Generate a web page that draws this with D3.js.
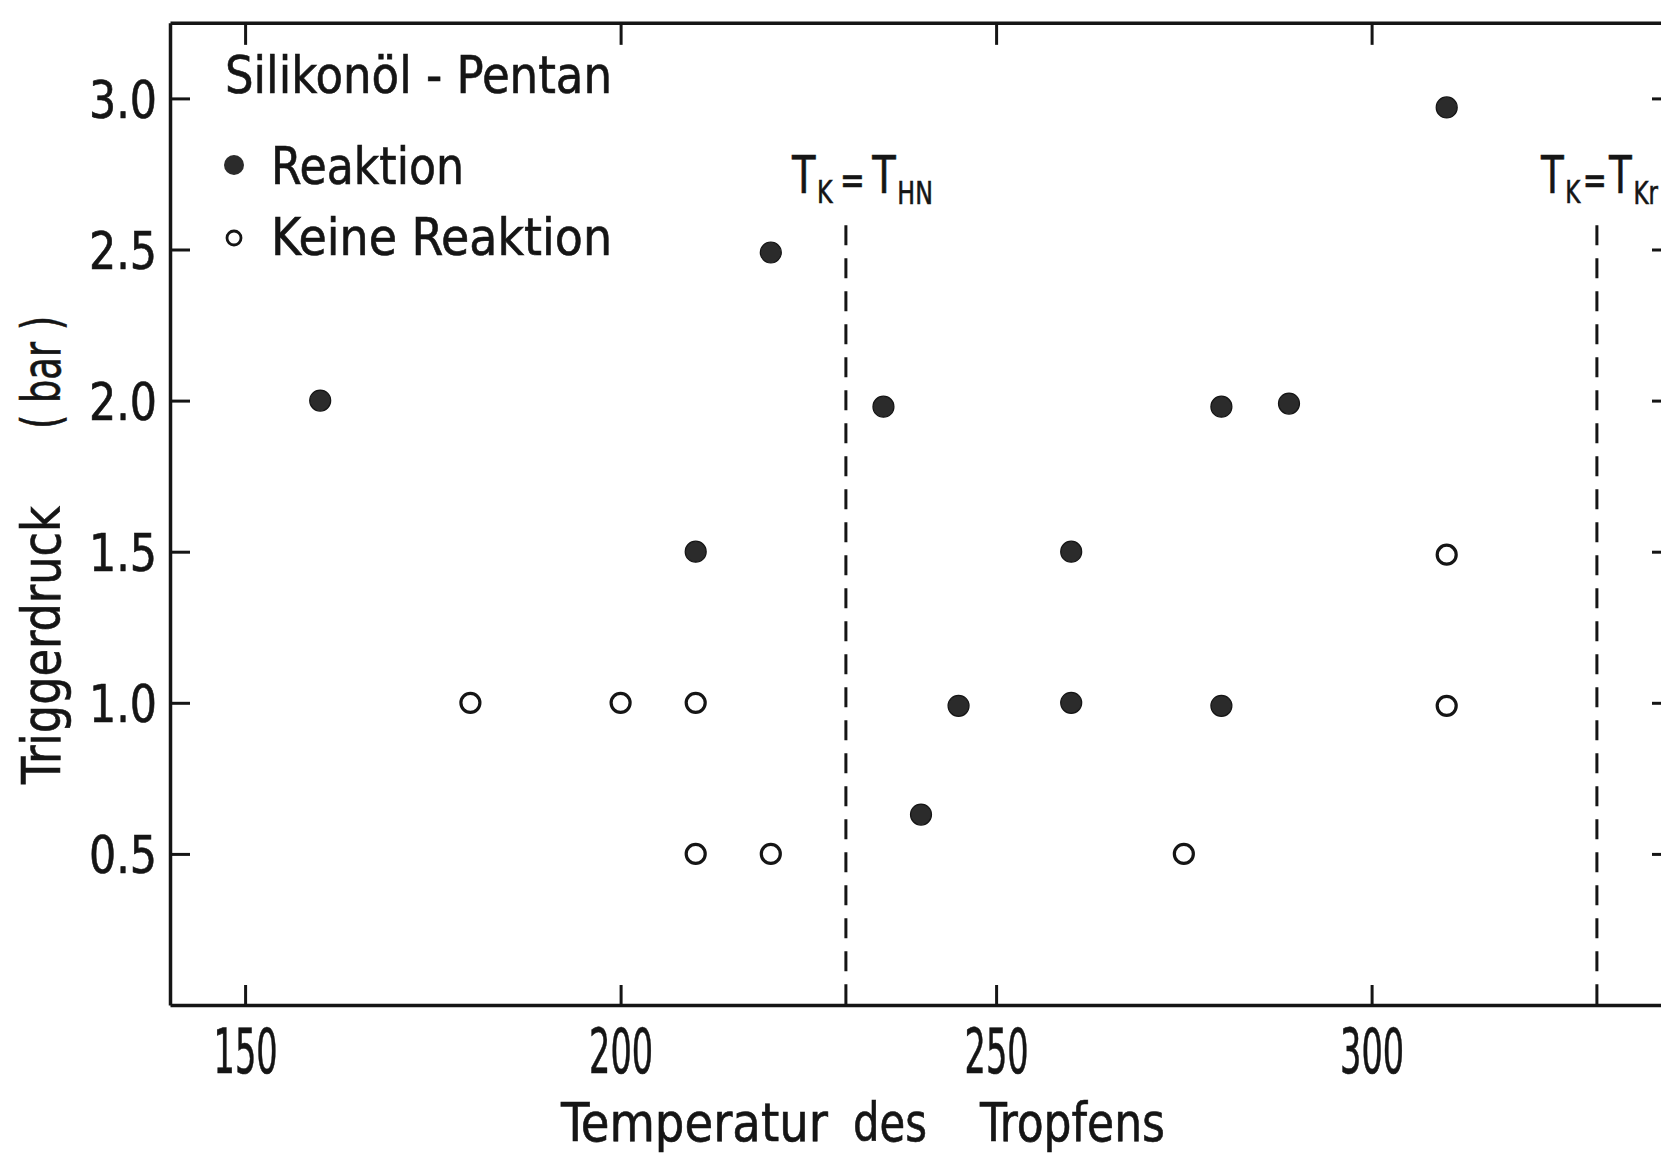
<!DOCTYPE html>
<html><head><meta charset="utf-8">
<script src="https://cdn.jsdelivr.net/npm/d3@7"></script>
<style>
html,body{margin:0;padding:0;background:#fff;}
svg{display:block;}
text{font-family:"DejaVu Sans Condensed","Liberation Sans Narrow","DejaVu Sans",sans-serif;fill:#151515;stroke:#151515;stroke-width:0.6px;}
</style></head>
<body>
<svg id="chart" width="1661" height="1155"></svg>
<script>
// ---- data ----
const reactionT = [160, 220, 210, 235, 280, 289, 260, 245, 260, 280, 240, 310];
const reactionP = [2.0, 2.49, 1.5, 1.98, 1.98, 1.99, 1.5, 0.99, 1.0, 0.99, 0.63, 2.97];
const noReactionT = [180, 200, 210, 210, 220, 275, 310, 310];
const noReactionP = [1.0, 1.0, 1.0, 0.5, 0.5, 0.5, 1.49, 0.99];
const xTicks = [150, 200, 250, 300];
const yTicks = [0.5, 1.0, 1.5, 2.0, 2.5, 3.0];
const yTickLabels = ["0.5", "1.0", "1.5", "2.0", "2.5", "3.0"];
const refTemps = [230, 330];
const refLabels = [["K", "HN"], ["K", "Kr"]];

const svg = d3.select("#chart");
const x = d3.scaleLinear().domain([140, 340]).range([170, 1672]);
const y = d3.scaleLinear().domain([0, 3.25]).range([1005, 22.85]);
const ink = "#151515";
const FONT = '"DejaVu Sans Condensed","Liberation Sans Narrow","DejaVu Sans",sans-serif';

function styleAxis(g){
  g.select(".domain").attr("stroke", ink).attr("stroke-width", 3.5);
  g.selectAll(".tick line").attr("stroke", ink).attr("stroke-width", 3);
}

// left axis
const gl = svg.append("g").attr("transform", `translate(${x(140)},0)`)
  .call(d3.axisLeft(y).tickValues(yTicks).tickSize(-20).tickSizeOuter(0).tickPadding(13)
        .tickFormat((d,i)=>yTickLabels[i]));
styleAxis(gl);
gl.selectAll(".tick text").attr("font-size", 52).attr("dy", "0.36em")
  .attr("textLength", 68).attr("lengthAdjust", "spacingAndGlyphs")
  .style("font-family", FONT).attr("fill", ink);

// right axis (mostly outside the view)
const gr = svg.append("g").attr("transform", `translate(${x(340)},0)`)
  .call(d3.axisRight(y).tickValues(yTicks).tickSize(-20).tickSizeOuter(0).tickFormat(""));
styleAxis(gr);

// bottom axis
const gb = svg.append("g").attr("transform", `translate(0,${y(0)})`)
  .call(d3.axisBottom(x).tickValues(xTicks).tickSize(-20).tickSizeOuter(0).tickPadding(24)
        .tickFormat(d3.format("d")));
styleAxis(gb);
gb.selectAll(".tick text").attr("font-size", 62).attr("dy", "0.71em")
  .attr("textLength", 64).attr("lengthAdjust", "spacingAndGlyphs")
  .style("font-family", FONT).attr("fill", ink);

// top axis
const gt = svg.append("g").attr("transform", `translate(0,${y(3.25)})`)
  .call(d3.axisTop(x).tickValues(xTicks).tickSize(-22).tickSizeOuter(0).tickFormat(""));
styleAxis(gt);

// reference dashed lines
svg.selectAll("line.ref").data(refTemps).enter().append("line")
  .attr("class", "ref")
  .attr("x1", d => x(d)).attr("x2", d => x(d))
  .attr("y1", y(2.58)).attr("y2", y(0))
  .attr("stroke", ink).attr("stroke-width", 3)
  .attr("stroke-dasharray", "20,13");

// reference labels T_K = T_xx : pieces laid out side by side, group squeezed to width
refTemps.forEach((t, i) => {
  const lx = x(t);
  const start = i === 0 ? lx - 54 : lx - 56;
  const width = i === 0 ? 141 : 117;
  const gaps = i === 0 ? [2, 9, 9, 2] : [2, 3, 3, 2];
  const pieces = [["T", 193, 52], [refLabels[i][0], 203, 32], ["=", 194, 40],
                  ["T", 193, 52], [refLabels[i][1], 204, 32]];
  const g = svg.append("g");
  let cx = 0;
  pieces.forEach(([s, py, fs], k) => {
    const tnode = g.append("text").attr("x", cx).attr("y", py).attr("font-size", fs).text(s);
    cx += tnode.node().getComputedTextLength() + (k < gaps.length ? gaps[k] : 0);
  });
  g.attr("transform", `translate(${start},0) scale(${width / cx},1)`);
});

// data points
svg.append("g").selectAll("circle").data(reactionT).enter().append("circle")
  .attr("cx", d => x(d)).attr("cy", (d, i) => y(reactionP[i]))
  .attr("r", 10.5).attr("fill", "#2b2b2b").attr("stroke", ink).attr("stroke-width", 1.2);
svg.append("g").selectAll("circle").data(noReactionT).enter().append("circle")
  .attr("cx", d => x(d)).attr("cy", (d, i) => y(noReactionP[i]))
  .attr("r", 9.5).attr("fill", "none").attr("stroke", ink).attr("stroke-width", 3.2);

// legend
svg.append("text").attr("x", 225).attr("y", 93).attr("font-size", 52)
  .attr("textLength", 387).attr("lengthAdjust", "spacingAndGlyphs").text("Silikonöl - Pentan");
svg.append("circle").attr("cx", 234).attr("cy", 165).attr("r", 10).attr("fill", "#2b2b2b");
svg.append("text").attr("x", 271).attr("y", 184).attr("font-size", 52)
  .attr("textLength", 193).attr("lengthAdjust", "spacingAndGlyphs").text("Reaktion");
svg.append("circle").attr("cx", 234).attr("cy", 238).attr("r", 7).attr("fill", "none")
  .attr("stroke", ink).attr("stroke-width", 2.8);
svg.append("text").attr("x", 271).attr("y", 255).attr("font-size", 52)
  .attr("textLength", 341).attr("lengthAdjust", "spacingAndGlyphs").text("Keine Reaktion");

// x-axis title
const xTitle = [["Temperatur", 561, 267], ["des", 853, 74], ["Tropfens", 980, 185]];
xTitle.forEach(([s, px, w]) => {
  svg.append("text").attr("x", px).attr("y", 1141).attr("font-size", 54)
    .attr("textLength", w).attr("lengthAdjust", "spacingAndGlyphs").text(s);
});

// y-axis title (rotated)
const yTitle = [["Triggerdruck", 784, 278], ["( bar )", 429, 113]];
yTitle.forEach(([s, py, w]) => {
  svg.append("text").attr("transform", `translate(60,${py}) rotate(-90)`)
    .attr("font-size", 54).attr("textLength", w).attr("lengthAdjust", "spacingAndGlyphs").text(s);
});
</script>
</body></html>
